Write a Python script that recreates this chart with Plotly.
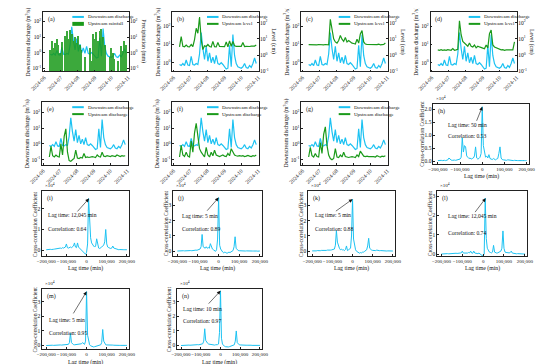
import plotly.graph_objects as go
import pandas as pd

W, H = 550, 364
FONT = "Liberation Serif"
CYAN = "#1CC2F2"
GREEN = "#1A9A1A"
INK = "#111111"

# ---------------- data: time series (3-day steps from TS_START) ----------------
TS_START = "2024-06-12"
downstream_q = [0.8, 0.7, 0.9, 0.7, 1.4, 0.75, 0.7,
                2.2, 0.8, 0.75, 0.9, 0.8, 3.0, 45, 6.0, 1.5, 8.0,
                1.2, 3.5, 1.0, 2.0, 0.9, 2.5, 0.9, 0.8, 1.0, 0.8,
                0.55, 0.45, 0.5, 9.0, 0.6, 35, 2.5, 0.9, 0.6, 0.55,
                0.5, 0.6, 0.9, 0.55, 0.5, 0.7, 0.55, 0.9, 1.8, 0.9]
rainfall = [1.5, 6.0, 2.0, 4.0, 8.0, 3.0, 1.0,
            5.0, None, 12, 25, 8, 30, 15, 6, 10, 4,
            12, 3, 1.5, None, 0.5, None, None, 2, 0.3, 15,
            8, 20, 6, 25, 35, 10, 3, None, None, 0.5,
            2, 1, 0.4, None, 0.3, None, 2.5, 1.2, 6, 3]
level_b = [3.2, 14, 3.5, 3.3, 4.2, 3.3, 3.2,
           4.5, 3.4, 9, 45, 22, 220, 9, 2.2, 3.8, 3.4,
           4.5, 3.4, 3.2, 7, 3.3, 3.2, 6, 3.4, 3.3, 3.5,
           3.3, 6.5, 3.3, 7.5, 3.5, 7, 3.8, 3.5, 3.4, 3.3,
           3.5, 6, 3.4, 3.5, 3.3, 3.4, 3.6, 3.5, 3.6, 4.2]
level_c = [4.4, 4.3, 4.5, 4.2, 4.4, 4.3, 4.5,
           4.4, 4.2, 4.3, 4.5, 4.4, 4.3, 160, 30, 10, 6.5,
           5.5, 8, 16, 9.5, 7, 12, 6.5, 8, 6.5, 5.5,
           5.2, 4.8, 9.5, 5.5, 20, 32, 6.5, 4.8, 4.6, 4.5,
           4.4, 4.3, 4.5, 4.2, 4.4, 4.8, 4.3, 4.4, 4.5, 5.6]
level_d = [2.1, 2.0, 2.2, 2.0, 2.1, 2.0, 2.2,
           2.1, 2.0, 2.5, 2.0, 2.1, 2.3, 130, 18, 7, 5.5,
           4.2, 3.5, 5.5, 3.5, 3.2, 4.2, 2.8, 3.5, 3.2, 2.8,
           2.7, 2.5, 4.2, 2.8, 21, 35, 4.2, 3.2, 2.8, 2.5,
           2.3, 2.1, 2.2, 2.0, 2.1, 2.1, 2.0, 2.2, 2.1, 6.5]
upstream_q_e = [0.15, 0.7, 0.18, 0.15, 0.2, 0.16, 0.15,
                1.0, 0.2, 3.0, 9.0, 0.3, 0.09, 0.08, 0.1, 0.12, 0.4,
                0.13, 0.12, 0.14, 0.13, 0.25, 0.14, 0.15, 0.14, 0.15, 0.16,
                0.15, 0.14, 0.2, 0.16, 0.15, 0.3, 0.17, 0.16, 0.18, 0.17,
                0.16, 0.18, 0.17, 0.16, 0.2, 0.17, 0.16, 0.18, 0.17, 0.18]
upstream_q_f = [0.15, 0.8, 0.2, 0.16, 0.3, 0.17, 0.15,
                1.5, 0.3, 5.0, 20, 2.0, 0.5, 0.3, 0.2, 0.15, 0.6,
                0.2, 0.15, 0.3, 0.18, 0.4, 0.2, 0.17, 0.16, 0.18, 0.2,
                0.17, 0.16, 0.25, 0.18, 0.5, 0.3, 0.2, 0.18, 0.17, 0.18,
                0.17, 0.18, 0.16, 0.17, 0.19, 0.17, 0.16, 0.18, 0.17, 0.2]
upstream_q_g = [0.15, 0.6, 0.18, 0.15, 0.25, 0.16, 0.15,
                1.2, 0.25, 4.0, 12, 0.8, 0.2, 0.12, 0.1, 0.12, 0.5,
                0.15, 0.14, 0.2, 0.15, 0.3, 0.16, 0.15, 0.14, 0.15, 0.16,
                0.15, 0.14, 0.2, 0.16, 0.35, 0.25, 0.17, 0.16, 0.17, 0.16,
                0.16, 0.17, 0.16, 0.15, 0.18, 0.16, 0.15, 0.17, 0.16, 0.18]

month_ticks = ["2024-06-01", "2024-07-01", "2024-08-01", "2024-09-01", "2024-10-01", "2024-11-01"]
month_labels = ["2024-06", "2024-07", "2024-08", "2024-09", "2024-10", "2024-11"]
log_ticks = [0.1, 1, 10, 100]
log_labels = ["10<sup>-1</sup>", "10<sup>0</sup>", "10<sup>1</sup>", "10<sup>2</sup>"]

# ---------------- data: cross-correlation (x10^4), lag -200000..200000 step 5000 ----------------
LAG_MIN, LAG_MAX, LAG_STEP = -200000, 200000, 5000
cc_h = [0.02, 0.03, 0.02, 0.03, 0.02, 0.04, 0.03, 0.02, 0.03, 0.05,
        0.12, 0.06, 0.04, 0.03, 0.05, 0.04, 0.03, 0.05, 0.04, 0.06,
        0.08, 0.15, 0.90, 0.35, 0.60, 0.55, 0.20, 0.15, 0.10, 0.12,
        0.08, 0.10, 0.12, 0.20, 0.55, 0.12, 0.08, 0.10, 0.15, 0.30,
        2.10,
        0.60, 0.30, 0.15, 0.20, 0.12, 0.25, 0.10, 0.08, 0.06, 0.10,
        0.06, 0.05, 0.08, 0.10, 0.30, 0.55, 0.12, 0.06, 0.05, 0.04,
        0.04, 0.03, 0.05, 0.04, 0.03, 0.04, 0.03, 0.02, 0.03, 0.02,
        0.03, 0.02, 0.02, 0.03, 0.02, 0.02, 0.03, 0.02, 0.02, 0.02]
cc_i = [0.02, 0.03, 0.02, 0.03, 0.04, 0.03, 0.05, 0.04, 0.05, 0.06,
        0.05, 0.06, 0.08, 0.07, 0.10, 0.08, 0.12, 0.10, 0.12, 0.15,
        0.30, 0.12, 0.10, 0.12, 0.15, 0.12, 0.18, 0.20, 0.35, 0.15,
        0.12, 0.35, 0.15, 0.10, 0.05, 0.00, -0.05, -0.10, -0.15, -0.20,
        -0.10,
        0.30, 2.50, 1.00, 0.60, 0.35, 0.25, 0.20, 0.15, 0.20, 0.55,
        0.20, 0.10, 0.08, 0.10, 0.15, 0.20, 0.25, 0.40, 1.00, 0.30,
        0.15, 0.12, 0.10, 0.08, 0.10, 0.20, 0.10, 0.08, 0.05, 0.04,
        0.03, 0.02, 0.03, 0.02, 0.02, 0.03, 0.02, 0.02, 0.01, 0.02]
cc_j = [0.02, 0.03, 0.02, 0.03, 0.02, 0.03, 0.04, 0.03, 0.04, 0.05,
        0.04, 0.05, 0.06, 0.05, 0.04, 0.06, 0.05, 0.06, 0.08, 0.07,
        0.08, 0.10, 0.15, 0.30, 1.10, 0.30, 0.25, 0.20, 0.30, 0.20,
        0.25, 0.20, 0.50, 0.30, 0.15, 0.10, 0.05, 0.00, 0.10, 0.80,
        3.50,
        0.40, 0.15, 0.00, -0.05, -0.10, -0.05, -0.08, -0.12, -0.10, -0.05,
        -0.08, -0.05, 0.00, 0.05, 0.30, 0.95, 0.20, 0.08, 0.05, 0.04,
        0.03, 0.04, 0.03, 0.02, 0.03, 0.02, 0.03, 0.02, 0.02, 0.03,
        0.02, 0.03, 0.02, 0.02, 0.03, 0.02, 0.02, 0.01, 0.02, 0.02]
cc_k = [0.03, 0.02, 0.03, 0.04, 0.03, 0.05, 0.04, 0.05, 0.04, 0.06,
        0.05, 0.06, 0.05, 0.07, 0.06, 0.08, 0.07, 0.10, 0.08, 0.09,
        0.10, 0.12, 0.15, 0.40, 1.35, 0.60, 0.30, 0.20, 0.10, 0.15,
        0.08, 0.10, 0.05, 0.12, 0.35, 0.05, 0.10, 0.15, 0.20, 1.00,
        3.40,
        0.80, 0.30, 0.10, 0.00, -0.05, -0.10, -0.12, -0.08, -0.10, -0.05,
        -0.05, 0.00, 0.05, 0.10, 0.35, 0.85, 0.20, 0.10, 0.08, 0.06,
        0.05, 0.06, 0.05, 0.08, 0.06, 0.05, 0.04, 0.05, 0.04, 0.03,
        0.04, 0.03, 0.03, 0.02, 0.03, 0.02, 0.02, 0.03, 0.02, 0.02]
cc_l = [0.00, 0.01, 0.00, 0.01, 0.00, 0.01, 0.02, 0.01, 0.02, 0.01,
        0.02, 0.03, 0.02, 0.03, 0.04, 0.03, 0.05, 0.04, 0.05, 0.06,
        0.15, 0.05, 0.04, 0.05, 0.06, 0.05, 0.08, 0.06, 0.15, 0.05,
        0.04, 0.15, 0.05, 0.03, 0.04, 0.02, 0.05, 0.01, -0.05, -0.08,
        -0.05,
        -0.02, 2.90, 0.80, 0.30, 0.15, 0.10, 0.08, 0.06, 0.10, 0.45,
        0.10, 0.06, 0.05, 0.06, 0.08, 0.10, 0.15, 0.30, 1.20, 0.30,
        0.10, 0.08, 0.06, 0.05, 0.06, 0.08, 0.15, 0.05, 0.03, 0.02,
        0.02, 0.01, 0.02, 0.01, 0.01, 0.02, 0.01, 0.01, 0.00, 0.01]
cc_m = [0.00, 0.01, 0.00, 0.01, 0.02, 0.01, 0.02, 0.01, 0.02, 0.03,
        0.02, 0.03, 0.02, 0.03, 0.04, 0.03, 0.04, 0.05, 0.04, 0.05,
        0.06, 0.05, 0.08, 0.20, 0.85, 0.20, 0.10, 0.06, 0.05, 0.06,
        0.05, 0.08, 0.10, 0.06, 0.08, 0.12, 0.20, 0.10, 0.08, 0.30,
        3.70,
        0.70, 0.20, 0.05, -0.02, -0.05, -0.08, -0.10, -0.08, -0.06, -0.05,
        -0.04, -0.02, 0.00, 0.05, 0.20, 1.10, 0.30, 0.10, 0.05, 0.04,
        0.03, 0.02, 0.03, 0.02, 0.02, 0.03, 0.02, 0.01, 0.02, 0.01,
        0.01, 0.02, 0.01, 0.01, 0.02, 0.01, 0.01, 0.00, 0.01, 0.01]
cc_n = [0.00, 0.01, 0.00, 0.01, 0.01, 0.02, 0.01, 0.02, 0.03, 0.02,
        0.03, 0.04, 0.03, 0.04, 0.05, 0.04, 0.05, 0.06, 0.05, 0.07,
        0.08, 0.10, 0.12, 0.30, 1.15, 0.35, 0.20, 0.15, 0.10, 0.08,
        0.06, 0.05, 0.04, 0.05, 0.03, 0.05, 0.04, 0.06, 0.10, 0.90,
        3.75,
        0.50, 0.10, 0.00, -0.05, -0.08, -0.10, -0.12, -0.10, -0.08, -0.06,
        -0.04, -0.02, 0.00, 0.05, 0.30, 1.00, 0.20, 0.08, 0.05, 0.04,
        0.03, 0.04, 0.03, 0.02, 0.03, 0.02, 0.02, 0.03, 0.02, 0.01,
        0.02, 0.01, 0.01, 0.02, 0.01, 0.01, 0.02, 0.01, 0.01, 0.01]

lag_ticks = [-200000, -100000, 0, 100000, 200000]
lag_labels = ["\u2212200,000", "\u2212100,000", "0", "100,000", "200,000"]

peak_lags = {"h": 50, "i": 12045, "j": 5, "k": 5, "l": 12045, "m": 5, "n": 10}
correlations = {"h": 0.53, "i": 0.64, "j": 0.89, "k": 0.88, "l": 0.74, "m": 0.95, "n": 0.97}

# ---------------- layout geometry (pixel boxes: left, right, top, bottom) ----------------
BOX = {
    "a": (23, 112, 4, 64), "b": (157, 247, 4, 64), "c": (291, 381, 4, 64), "d": (425, 515, 4, 64),
    "e": (22, 111, 95, 158), "f": (157, 247, 95, 158), "g": (291, 381, 95, 158),
    "h": (428, 527, 97, 157),
    "i": (22, 112, 185, 250), "j": (158, 250, 185, 250), "k": (298, 388, 185, 250), "l": (432, 525, 185, 250),
    "m": (22, 112, 283, 344), "n": (162, 250, 283, 344),
}
ORDER = list("abcdefghijklmn")
NUM = {k: i + 1 for i, k in enumerate(ORDER)}


def px_x(x):
    return x / W


def px_y(y):
    return 1 - y / H


def ref(p, n):
    return p if n == 1 else f"{p}{n}"


def lkey(p, n):
    return f"{p}axis" if n == 1 else f"{p}axis{n}"


dates = pd.date_range(TS_START, periods=len(downstream_q), freq="3D")
lags = list(range(LAG_MIN, LAG_MAX + 1, LAG_STEP))

fig = go.Figure()
layout = {}
ANN = []
SHAPES = []

tickfont = dict(family=FONT, size=5.5, color=INK)
base_axis = dict(showline=True, linecolor="#222", linewidth=0.7, mirror=True, ticks="inside",
                 ticklen=2, tickwidth=0.6, tickcolor="#222", showgrid=False, zeroline=False,
                 tickfont=tickfont)


def text(t, x, y, size=6, xanchor="center", yanchor="middle", angle=0, xref="paper", yref="paper"):
    ANN.append(dict(text=t, x=x, y=y, xref=xref, yref=yref, showarrow=False, textangle=angle,
                    xanchor=xanchor, yanchor=yanchor, font=dict(family=FONT, size=size, color=INK)))


def panel_label(k):
    l, r, t, b = BOX[k]
    text(f"({k})", px_x(l + 3), px_y(t + 2), size=6, xanchor="left", yanchor="top")


def legend(k, legx, items):
    l, r, t, b = BOX[k]
    w = r - l
    for row, (kind, color, label) in enumerate(items):
        yc = t + 5 + row * 7
        x0 = l + legx * w
        x1 = x0 + 12
        if kind == "line":
            SHAPES.append(dict(type="line", xref="paper", yref="paper", x0=px_x(x0), x1=px_x(x1),
                               y0=px_y(yc), y1=px_y(yc), line=dict(color=color, width=2)))
        else:
            SHAPES.append(dict(type="rect", xref="paper", yref="paper", x0=px_x(x0), x1=px_x(x1),
                               y0=px_y(yc - 2), y1=px_y(yc + 2), fillcolor=color, line=dict(width=0)))
        text(label, px_x(x1 + 2), px_y(yc), size=5, xanchor="left")


# ---------------- time-series panels ----------------
TS = [
    # key, upstream data, kind, legend label, right title, left range, right range, legend x
    ("a", rainfall, "bar", "Upstream rainfall", "Precipitation (mm)", [-1.2, 2.6], [-1.2, 2.6], 0.34),
    ("b", level_b, "line", "Upstream level", "Level (cm)", [-0.48, 2.78], [-1.0, 2.65], 0.40),
    ("c", level_c, "line", "Upstream level", "Level (cm)", [-0.48, 2.78], [-1.0, 2.65], 0.43),
    ("d", level_d, "line", "Upstream level", "Level (cm)", [-0.48, 2.78], [-1.0, 2.65], 0.44),
    ("e", upstream_q_e, "same", "Upstream discharge", None, [-1.31, 2.63], None, 0.35),
    ("f", upstream_q_f, "same", "Upstream discharge", None, [-1.31, 2.63], None, 0.40),
    ("g", upstream_q_g, "same", "Upstream discharge", None, [-1.31, 2.63], None, 0.43),
]

sec_n = 15
for key, up, kind, uplabel, rtitle, lrange, rrange, legx in TS:
    n = NUM[key]
    l, r, t, b = BOX[key]
    xa = dict(base_axis, type="date", domain=[px_x(l), px_x(r)], anchor=ref("y", n),
              range=["2024-05-30", "2024-11-02"], tickvals=month_ticks, ticktext=month_labels,
              tickangle=-45)
    ya = dict(base_axis, type="log", domain=[px_y(b), px_y(t)], anchor=ref("x", n), range=lrange,
              tickvals=log_ticks, ticktext=log_labels)
    layout[lkey("x", n)] = xa
    layout[lkey("y", n)] = ya
    fig.add_trace(go.Scatter(x=dates, y=downstream_q, mode="lines", line=dict(color=CYAN, width=1.2),
                             xaxis=ref("x", n), yaxis=ref("y", n), showlegend=False))
    if kind == "same":
        fig.add_trace(go.Scatter(x=dates, y=up, mode="lines", line=dict(color=GREEN, width=1.2),
                                 xaxis=ref("x", n), yaxis=ref("y", n), showlegend=False))
    else:
        ys = dict(base_axis, type="log", overlaying=ref("y", n), anchor=ref("x", n), side="right",
                  range=rrange, tickvals=log_ticks, ticktext=log_labels, showline=False, mirror=False)
        layout[lkey("y", sec_n)] = ys
        if kind == "bar":
            fig.add_trace(go.Bar(x=dates, y=up, width=1.9 * 86400000, marker=dict(color=GREEN, line=dict(width=0)),
                                 opacity=0.85, xaxis=ref("x", n), yaxis=ref("y", sec_n), showlegend=False))
        else:
            fig.add_trace(go.Scatter(x=dates, y=up, mode="lines", line=dict(color=GREEN, width=1.2),
                                     xaxis=ref("x", n), yaxis=ref("y", sec_n), showlegend=False))
        text(rtitle, px_x(r + 15), px_y((t + b) / 2), size=5.8, angle=90)
        sec_n += 1
    text("Downstream discharge (m<sup>3</sup>/s)", px_x(l - 16), px_y((t + b) / 2), size=5.8, angle=-90)
    panel_label(key)
    legend(key, legx, [("line", CYAN, "Downstream discharge"),
                       ("rect" if kind == "bar" else "line", GREEN, uplabel)])

# ---------------- cross-correlation panels ----------------
CC = [
    # key, data, y range, tick vals, tick format, text x (domain), lag-text y, corr-text y, arrow tail
    ("h", cc_h, [-0.1, 2.2], [0, 0.5, 1.0, 1.5, 2.0], ".1f", 0.13, 1.40, 0.99, (-28000, 1.50)),
    ("i", cc_i, [-0.28, 2.84], [0, 1, 2], "d", 0.04, 1.69, 1.00, (-52000, 1.80)),
    ("j", cc_j, [-0.3, 3.9], [0, 1, 2, 3], "d", 0.08, 2.33, 1.44, (-62000, 2.55)),
    ("k", cc_k, [-0.3, 3.9], [0, 1, 2, 3], "d", 0.06, 2.37, 1.46, (-90000, 2.55)),
    ("l", cc_l, [-0.1, 3.25], [0, 1, 2, 3], "d", 0.10, 1.95, 1.08, (-44000, 2.10)),
    ("m", cc_m, [-0.25, 3.9], [0, 1, 2, 3], "d", 0.06, 1.78, 0.83, (-70000, 2.10)),
    ("n", cc_n, [-0.25, 3.9], [0, 1, 2, 3], "d", 0.05, 2.52, 1.71, (-67000, 2.77)),
]

for key, vals, yr, yt, yfmt, tx, ylag, ycorr, tail in CC:
    n = NUM[key]
    l, r, t, b = BOX[key]
    layout[lkey("x", n)] = dict(base_axis, domain=[px_x(l), px_x(r)], anchor=ref("y", n),
                                range=[-220000, 210000], tickvals=lag_ticks, ticktext=lag_labels,
                                tickangle=0, tickfont=dict(family=FONT, size=5, color=INK))
    layout[lkey("y", n)] = dict(base_axis, domain=[px_y(b), px_y(t)], anchor=ref("x", n),
                                range=yr, tickvals=yt, tickformat=yfmt)
    fig.add_trace(go.Scatter(x=lags, y=vals, mode="lines", line=dict(color=CYAN, width=1.0),
                             xaxis=ref("x", n), yaxis=ref("y", n), showlegend=False))
    xr, yr_ = ref("x", n), ref("y", n)
    pk = max(vals)
    ANN.append(dict(x=peak_lags[key], y=pk, xref=xr, yref=yr_, ax=tail[0], ay=tail[1], axref=xr, ayref=yr_,
                    text="", showarrow=True, arrowhead=2, arrowsize=1.2, arrowwidth=0.6, arrowcolor=INK))
    text(f"Lag time: {peak_lags[key]:,} min", tx, ylag, size=5.6, xanchor="left", xref=f"{xr} domain", yref=yr_)
    text(f"Correlation: {correlations[key]:.2f}", tx, ycorr, size=5.6, xanchor="left", xref=f"{xr} domain", yref=yr_)
    text("\u00d710<sup>4</sup>", px_x(l + 1), px_y(t - 1), size=5, xanchor="left", yanchor="bottom")
    text("Cross-correlation Coefficient", px_x(l - (12 if key == "h" else 8)), px_y((t + b) / 2), size=5.6, angle=-90)
    text("Lag time (min)", px_x((l + r) / 2), px_y(b + 13), size=5.8, yanchor="middle")
    panel_label(key)

fig.update_layout(**layout)
fig.update_layout(width=W, height=H, margin=dict(l=0, r=0, t=0, b=0), paper_bgcolor="white",
                  plot_bgcolor="white", showlegend=False, annotations=ANN, shapes=SHAPES,
                  font=dict(family=FONT, size=6, color=INK), bargap=0)
fig.write_html("out.html")
